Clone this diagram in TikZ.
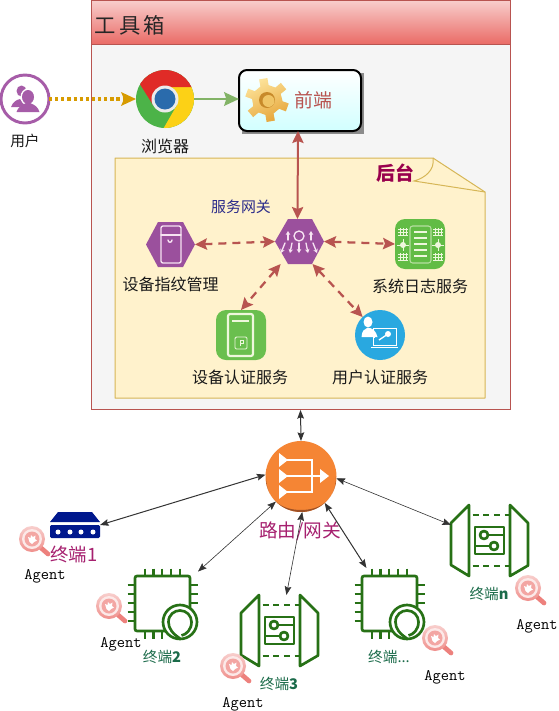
\documentclass[tikz,border=0pt]{standalone}
\usepackage{fontspec}
\setmainfont{Noto Sans CJK SC}
\usetikzlibrary{arrows.meta,calc}
\def\u{0.75pt}
\definecolor{panelred}{HTML}{B85450}
\definecolor{headtop}{HTML}{F8CECC}
\definecolor{headbot}{HTML}{EA6B66}
\definecolor{panelbg}{HTML}{F5F5F5}
\definecolor{notefill}{HTML}{FFF2CC}
\definecolor{noteline}{HTML}{D6B656}
\definecolor{hexpurple}{HTML}{9B509D}
\definecolor{userpurple}{HTML}{A65CA8}
\definecolor{iconwhite}{HTML}{F7E3F2}
\definecolor{boxgreen}{HTML}{62BC45}
\definecolor{boxline}{HTML}{EEF7DC}
\definecolor{userblue}{HTML}{29A8E0}
\definecolor{navy}{HTML}{00188D}
\definecolor{chipgreen}{HTML}{277116}
\definecolor{orangebody}{HTML}{F58534}
\definecolor{orangedark}{HTML}{9D5025}
\definecolor{termgreen}{HTML}{1B6B4A}
\definecolor{magentatext}{HTML}{A6206F}
\definecolor{wine}{HTML}{99004D}
\definecolor{gatetext}{HTML}{2A2A8A}
\definecolor{dashyellow}{HTML}{D79B00}
\definecolor{linkgreen}{HTML}{82B366}
\definecolor{gearlight}{HTML}{FDE39A}
\definecolor{geardark}{HTML}{E6A63A}
\definecolor{gearhole}{HTML}{C88A2A}
\definecolor{gearcore}{HTML}{F0C566}
\definecolor{chromegreen}{HTML}{4CB348}
\definecolor{chromeyellow}{HTML}{FCD116}
\definecolor{chromered}{HTML}{E02B27}
\definecolor{chromeblue}{HTML}{2A6BAC}
\tikzset{
  x=0.75pt,y=-0.75pt,
  spot/.style={draw=none,inner sep=0pt,outer sep=0pt},
  rectspot/.style args={#1 by #2}{spot,rectangle,minimum width=#1*\u,minimum height=#2*\u},
  circspot/.style={spot,circle,minimum size=#1*\u},
  lab/.style={inner sep=0pt,font=\fontsize{12}{14}\selectfont,text=black!90},
  termlab/.style={inner sep=0pt,font=\fontsize{11}{13}\selectfont,text=termgreen},
  agentlab/.style={inner sep=0pt,font=\fontsize{12}{13}\selectfont\ttfamily,text=black},
  redlink/.style={draw=panelred,line width=1.7pt,dash pattern=on 6pt off 4.5pt,
     {Stealth[length=9pt,width=8.5pt,inset=1.5pt]}-{Stealth[length=9pt,width=8.5pt,inset=1.5pt]}},
  solidred/.style={draw=panelred,line width=1.5pt,
     {Stealth[length=9pt,width=8.5pt,inset=1.5pt]}-{Stealth[length=9pt,width=8.5pt,inset=1.5pt]}},
  blacklink/.style={draw=black!80,line width=#1,
     {Stealth[length=6.5pt,width=5pt,inset=1pt]}-{Stealth[length=6.5pt,width=5pt,inset=1pt]}},
  iconstroke/.style={draw=iconwhite,line width=1pt,line cap=round},
  boxstroke/.style={draw=boxline,line width=0.8pt},
  chipicon/.pic={
    \begin{scope}[draw=chipgreen,line width=2pt]
      \draw[rounded corners=1.5pt] (-27.5,-27.5) rectangle (27.5,27.5);
      \foreach \p in {-17.5,-9,-0.5,8.5,17.5}{\draw (\p,-35) -- (\p,-27.5);}
      \foreach \p in {-17.5,-9,-0.5}{\draw (\p,27.5) -- (\p,35);}
      \foreach \p in {-18.5,-9.5,-0.5,8.5,17.5}{\draw (-35,\p) -- (-27.5,\p);}
      \foreach \p in {-18.5,-9.5,-0.5}{\draw (27.5,\p) -- (35,\p);}
      \draw[fill=white] (17.5,18.5) circle[radius=17*\u];
      \draw (17.5,35) .. controls (10,30) and (6,25) .. (6,18.5)
         .. controls (6,11) and (12,7) .. (17.5,7)
         .. controls (24,7) and (29,12) .. (29,18.5)
         .. controls (29,26) and (24,31) .. (19,32);
    \end{scope}
  },
  muxicon/.pic={
    \begin{scope}[draw=chipgreen,line width=2pt,line join=round]
      \draw (-38.5,-17.5) -- (-20.5,-35.5) -- (-20.5,35.5) -- (-38.5,24.5) -- cycle;
      \draw (20.5,-35.5) -- (38.5,-17.5) -- (38.5,25) -- (20.5,35.5) -- cycle;
      \draw[dash pattern=on 4.5pt off 3.5pt] (-17,-25.5) -- (20.5,-25.5);
      \draw[dash pattern=on 4.5pt off 3.5pt] (-17,25.5) -- (20.5,25.5);
      \draw (-14.5,-13.5) rectangle (14.5,13.5);
      \draw (-5.5,-5.5) circle[radius=4*\u];
      \draw (4.5,5.5) circle[radius=4*\u];
      \draw (-1.5,-5.5) -- (14.5,-5.5);
      \draw (0.5,5.5) -- (-14.5,5.5);
    \end{scope}
  },
  lensicon/.pic={
    \draw[draw=headbot!85,line width=3.5pt,line cap=round] (8,8) -- (16,15);
    \shade[top color=headtop,bottom color=headbot!75] (0,0) circle[radius=13*\u];
    \fill[white!85!headbot] (0,0) circle[radius=10*\u];
    \fill[headbot!60] (0,0) circle[radius=7.5*\u];
    \fill[white] (-4,-2) -- (-1.5,-1) -- (-1,-4) -- (1,-2) -- (3.5,-3.5) -- (3,0) -- (5,1.5) -- (2,3) -- (0,5) -- (-2.5,3) -- cycle;
  },
  chromeicon/.pic={
    \begin{scope}
      \clip (0,0) circle[radius=29*\u];
      \fill[chromegreen] (-40,-40) rectangle (40,40);
      \fill[chromeyellow] (40,-12) -- (0,-12) -- (12,6) -- (-3,32) -- (40,40) -- cycle;
      \fill[chromered] (-25.5,-15.5) -- (-40,-40) -- (40,-40) -- (40,-12) -- (0,-12) -- (-12,6) -- cycle;
    \end{scope}
    \fill[black!8] (0,0) circle[radius=13.5*\u];
    \fill[chromeblue] (0,0) circle[radius=10.5*\u];
  },
  gearicon/.pic={
    \path[top color=gearlight,bottom color=geardark,shading angle=25]
      (15:17) foreach \a in {20,80,...,320}{
        -- (\a-16:15) -- (\a-11:22) -- (\a+11:22) -- (\a+16:15)} -- cycle;
    \fill[gearhole] (0,0) circle[radius=8*\u];
    \fill[gearcore] (1.5,1) circle[radius=6*\u];
  },
}
\begin{document}
\begin{tikzpicture}
\useasboundingbox (0,0) rectangle (559,711);
\fill[white] (0,0) rectangle (559,711);
% panel
\node[rectspot=419 by 409.5,fill=panelbg,draw=panelred,line width=0.75pt] (panel) at (300.5,205.2) {};
\node[rectspot=419 by 44,top color=headtop,bottom color=headbot,draw=panelred,line width=0.75pt] (head) at (300.5,22.2) {};
\node[inner sep=0pt,font=\fontsize{16}{18}\selectfont,text=black!85] (title) at (130,25) {工\hspace{2.5pt}具\hspace{2.5pt}箱};
% note
\path[fill=notefill,draw=noteline,line width=0.75pt,line join=round]
  (115,158) -- (433,158) -- (485,192) -- (485,398) -- (115,398) -- cycle;
\draw[draw=noteline,line width=0.75pt] (433,158) .. controls (435,170) and (425,178) .. (414,181) -- (485,192);
\node[inner sep=0pt,font=\fontsize{14.2}{16}\bfseries\selectfont,text=wine] (backlab) at (395,173) {后台};
% user
\node[circspot=48,draw=userpurple,line width=2.2pt,fill=white] (user) at (25,99) {};
\fill[userpurple] (21.5,91) ellipse[x radius=5*\u,y radius=5.5*\u];
\fill[userpurple] (11,107) .. controls (13,102) and (16,100) .. (20,99) -- (25,104) -- (20,107) -- cycle;
\fill[white] (28,97) ellipse[x radius=7.5*\u,y radius=8.5*\u];
\fill[userpurple] (28,97) ellipse[x radius=6*\u,y radius=7*\u];
\fill[userpurple] (16.5,112) .. controls (18,107) and (22,105) .. (26,103) -- (30,103) .. controls (35,105) and (38,107) .. (39.5,112) -- cycle;
\node[lab,font=\fontsize{11}{13}\selectfont] (userlab) at (25,141) {用户};
% browser
\node[circspot=58] (chrome) at (165,99) {};
\pic at (165,99) {chromeicon};
\node[lab] (chromelab) at (165,146) {浏览器};
% front
\fill[black!45] (241.5,73) rectangle (364,134);
\node[rectspot=122 by 61,draw=black,line width=1.5pt,rounded corners=6pt,top color=white,bottom color=cyan!18] (front) at (300,100.5) {};
\pic at (267,100) {gearicon};
\node[inner sep=0pt,font=\fontsize{14.2}{16}\selectfont,text=panelred] (frontlab) at (313,100) {前端};
% gateway hexagon
\node[rectspot=49 by 45] (gw) at (299.5,241.5) {};
\fill[hexpurple] (gw.west) -- (288,219) -- (312,219) -- (gw.east) -- (312,264) -- (288,264) -- cycle;
\draw[iconstroke] (299,236) circle[radius=5*\u];
\foreach \xa/\xb in {288/288,311/311}{\draw[iconstroke,-{Stealth[length=3pt,width=3.5pt]}] (\xa,240) -- (\xb,231);}
\foreach \xa/\xb in {285/281,292/290,299/299,306/308,313/317}{\draw[iconstroke,-{Stealth[length=3pt,width=3.5pt]}] (\xa,243) -- (\xb,253);}
\node[inner sep=0pt,font=\fontsize{11.2}{13}\selectfont,text=gatetext] (gwlab) at (241,207) {服务网关};
% fingerprint
\node[rectspot=49 by 45] (fp) at (170.5,244.5) {};
\fill[hexpurple] (fp.west) -- (158,222) -- (183,222) -- (fp.east) -- (183,267) -- (158,267) -- cycle;
\draw[iconstroke,rounded corners=1.5pt] (161,226) rectangle (181,263);
\draw[iconstroke] (161,235) -- (181,235);
\draw[iconstroke] (168,240) .. controls (168,243) and (172,243) .. (172,240);
\node[lab] (fplab) at (170.5,284) {设备指纹管理};
% log service
\node[rectspot=50 by 50,fill=boxgreen,rounded corners=7.5pt] (logsvc) at (420,244) {};
\draw[boxstroke,rounded corners=2pt,draw=boxline!60!boxgreen] (410,226) rectangle (431,263);
\foreach \y in {232,238,244,250,256}{\draw[draw=boxline,line width=1pt] (414,\y) -- (427,\y);}
\foreach \x in {403,438}{
  \foreach \y in {232,257}{
    \draw[boxstroke,line width=0.5pt] (\x-5,\y-3) -- (\x+5,\y-3) (\x-5,\y) -- (\x+5,\y) (\x-5,\y+3) -- (\x+5,\y+3)
       (\x-3,\y-4) -- (\x-3,\y+4) (\x,\y-4) -- (\x,\y+4) (\x+3,\y-4) -- (\x+3,\y+4);}
  \fill[boxline] (\x,245) circle[radius=3*\u];
  \draw[boxstroke,line width=0.5pt] (\x-6,245) -- (\x+6,245) (\x,239) -- (\x,251);
}
\node[lab] (loglab) at (420,286) {系统日志服务};
% device auth
\node[rectspot=50 by 50,fill=boxgreen!95!white,rounded corners=7.5pt] (devauth) at (241,335) {};
\draw[boxstroke,line width=1.6pt,rounded corners=1.5pt] (228,314) rectangle (253,356);
\draw[boxstroke,line width=2pt] (232,321) -- (249,321);
\draw[boxstroke,line width=0.7pt,rounded corners=1pt] (235,337) rectangle (247,349);
\draw[boxstroke,line width=0.7pt] (240,346) -- (240,340) -- (243,340) -- (243,343) -- (240,343);
\node[lab] (devlab) at (240,377) {设备认证服务};
% user auth
\node[circspot=50,fill=userblue] (usrauth) at (380,335) {};
\fill[white] (368,322) ellipse[x radius=4.5*\u,y radius=5.5*\u];
\fill[white] (361.5,337) .. controls (362,331) and (364,329) .. (367,328) -- (370,328) .. controls (373,329) and (376,331) .. (377.5,337) -- cycle;
\draw[draw=white,line width=0.7pt] (375,337) -- (373,337) -- (373,328) -- (396,328) -- (396,345) -- (373,345) -- (373,337);
\draw[draw=white,line width=0.9pt] (371,347.5) -- (398,347.5);
\fill[white] (388,334) circle[radius=3*\u];
\draw[draw=white,line width=1pt] (388,334) -- (379,340);
\node[lab] (usrlab) at (380,377) {用户认证服务};
% router
\node[circspot=71,fill=orangebody] (router) at (301,476.5) {};
\begin{scope}
  \clip (301,476.5) circle[radius=35.5*\u];
  \fill[orangedark] (266,476.5) -- (266,520) -- (336,520) -- (336,476.5) .. controls (336,500) and (320,510) .. (301,510) .. controls (282,510) and (266,500) .. (266,476.5) -- cycle;
\end{scope}
\foreach \y in {460,476,492}{
  \fill[white] (279,\y-7) -- (288,\y) -- (279,\y+7) -- cycle;
}
\draw[draw=white,line width=1.5pt] (287,476) -- (322,476);
\draw[draw=white,line width=1.5pt,line join=miter] (287,460) -- (312,460) -- (312,492) -- (287,492);
\fill[white] (320,469) -- (329,476) -- (320,483) -- cycle;
\node[inner sep=0pt,font=\fontsize{14}{16}\selectfont,text=magentatext] (routerlab) at (300,531) {路由/网关};
% terminals
\node[rectspot=50 by 26] (t1) at (75,525) {};
\fill[navy] (58,512) -- (92,512) -- (100,522) -- (50,522) -- cycle;
\fill[navy,rounded corners=1pt] (50,525) rectangle (100,538);
\foreach \x in {58,70,81,93}{\fill[white] (\x,532) circle[radius=2.5*\u];}
\node[inner sep=0pt,font=\fontsize{13.8}{16}\selectfont,text=magentatext] (t1lab) at (74,555) {终端1};
\node[rectspot=71 by 71] (t2) at (162.5,603.5) {};
\pic at (162.5,603.5) {chipicon};
\node[termlab] (t2lab) at (162,657) {终端\textbf{2}};
\node[rectspot=77 by 71] (t3) at (279.5,630.5) {};
\pic at (279.5,630.5) {muxicon};
\node[termlab] (t3lab) at (279,684) {终端\textbf{3}};
\node[rectspot=71 by 71] (t4) at (389.5,603.5) {};
\pic at (389.5,603.5) {chipicon};
\node[termlab] (t4lab) at (389,657) {终端...};
\node[rectspot=77 by 71] (tn) at (489.5,540.5) {};
\pic at (489.5,540.5) {muxicon};
\node[termlab] (tnlab) at (489,594) {终端\textbf{n}};
% agents
\pic at (32,539) {lensicon};
\pic at (109,606) {lensicon};
\pic at (233,666) {lensicon};
\pic at (435,638) {lensicon};
\pic at (528,588) {lensicon};
\node[agentlab] (a1) at (45,576) {Agent};
\node[agentlab] (a2) at (121,644) {Agent};
\node[agentlab] (a3) at (243,704) {Agent};
\node[agentlab] (a4) at (445,677) {Agent};
\node[agentlab] (an) at (537,626) {Agent};
% connectors
\draw[draw=dashyellow,line width=2.4pt,dash pattern=on 2.4pt off 2.2pt,-{Stealth[length=11pt,width=10pt,inset=2pt]}] (user) -- (chrome);
\draw[draw=linkgreen,line width=2.2pt,-{Stealth[length=11pt,width=10pt,inset=1.5pt]}] (chrome.east) -- (chrome.east -| front.west);
\draw[solidred] ([xshift=-1.5pt]front.south) -- ([xshift=-1.5pt]gw.north);
\draw[redlink] (fp.east) -- (gw.west);
\draw[redlink] (gw.east) -- (logsvc.west);
\draw[redlink] (gw.230) -- (devauth.north);
\draw[redlink] (gw.300) -- (usrauth.134);
\draw[blacklink=0.75pt] (panel.south) -- (router.north);
\draw[blacklink=0.75pt] (router.177) -- (t1.east);
\draw[blacklink=0.45pt] (router.225) -- (t2.42);
\draw[blacklink=0.45pt] (router.272) -- (t3.79);
\draw[blacklink=0.75pt] (router.312) -- (t4.123);
\draw[blacklink=0.45pt] (router.357) -- (tn.158);
\end{tikzpicture}
\end{document}
